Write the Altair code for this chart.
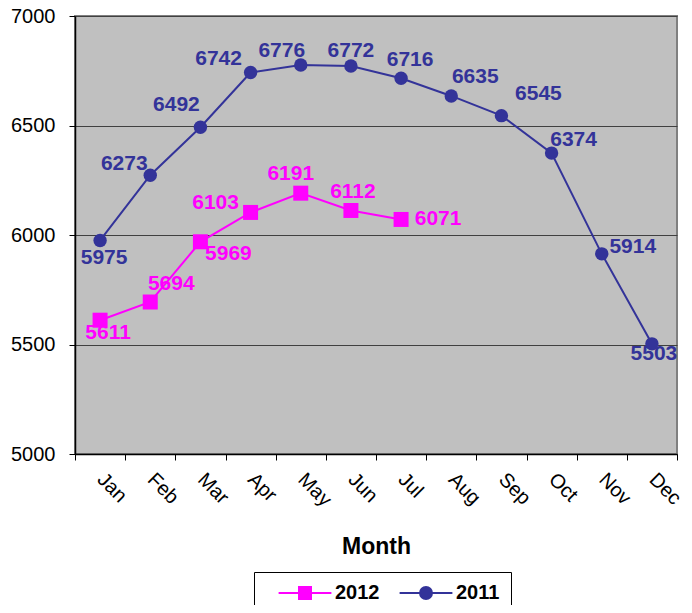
import altair as alt
import pandas as pd

months = ["Jan", "Feb", "Mar", "Apr", "May", "Jun", "Jul", "Aug", "Sep", "Oct", "Nov", "Dec"]
sales_2011 = [5975, 6273, 6492, 6742, 6776, 6772, 6716, 6635, 6545, 6374, 5914, 5503]
sales_2012 = [5611, 5694, 5969, 6103, 6191, 6112, 6071]
years = ["2012", "2011"]
y_ticks = [5000, 5500, 6000, 6500, 7000]

# label placement offsets (pixels) for each data label
label_dx_2011 = [4, -26, -24, -32, -19, 0, 9, 24, 37, 22, 31, 2]
label_dy_2011 = [18, -11, -22, -14, -14, -15, -18, -19, -22, -13, -7, 10]
label_dx_2012 = [8, 21, 28, -35, -10, 2, 37]
label_dy_2012 = [13, -18, 12, -9, -19, -18, 0]

COL_2012 = "#FF00FF"
COL_2011 = "#333399"
FONT = "Liberation Sans"

rows = []
for m, v in zip(months, sales_2011):
    rows.append({"month": m, "year": "2011", "value": v})
for m, v in zip(months, sales_2012):
    rows.append({"month": m, "year": "2012", "value": v})
df = pd.DataFrame(rows)

x_enc = alt.X(
    "month:N",
    sort=months,
    scale=alt.Scale(domain=months, paddingInner=0, paddingOuter=0),
    axis=alt.Axis(
        title="Month",
        titleFontSize=23,
        titleFontWeight="bold",
        titleFont=FONT,
        titleColor="#000000",
        titlePadding=26,
        labelAngle=45,
        labelAlign="left",
        labelBaseline="middle",
        labelFontSize=20,
        labelFont=FONT,
        labelColor="#000000",
        labelPadding=16,
        tickBand="extent",
        tickSize=6,
        tickColor="#000000",
        domainColor="#000000",
        domainWidth=1.5,
        grid=False,
    ),
)
y_enc = alt.Y(
    "value:Q",
    scale=alt.Scale(domain=[5000, 7000], nice=False, zero=False),
    axis=alt.Axis(
        title=None,
        values=y_ticks,
        format="d",
        labelFontSize=20,
        labelFont=FONT,
        labelColor="#000000",
        labelPadding=14,
        tickSize=6,
        tickColor="#000000",
        domainColor="#000000",
        domainWidth=1.5,
        grid=True,
        gridColor="#404040",
        gridWidth=1,
    ),
)

base = alt.Chart(df)

def series(year, color, shape, size, mlist, dxs, dys):
    sub = base.transform_filter(alt.datum.year == year)
    out = [
        sub.mark_line(color=color, strokeWidth=2).encode(x=x_enc, y=y_enc),
        sub.mark_point(shape=shape, filled=True, color=color, size=size, opacity=1).encode(x=x_enc, y=y_enc),
    ]
    for m, dx, dy in zip(mlist, dxs, dys):
        out.append(
            sub.transform_filter(alt.datum.month == m)
            .mark_text(color=color, font=FONT, fontSize=21, fontWeight="bold",
                       align="center", baseline="middle", dx=dx, dy=dy)
            .encode(x=x_enc, y=y_enc, text="value:Q")
        )
    return out

path_sq = "M-4.4,0H4.4M-1,-1H1V1H-1Z"
path_ci = "M-4.4,0H4.4M1,0A1,1 0 1,1 -1,0A1,1 0 1,1 1,0Z"

leg = alt.Legend(
    title=None,
    orient="none",
    legendX=179,
    legendY=556,
    direction="horizontal",
    labelFont=FONT,
    labelFontSize=20,
    labelFontWeight="bold",
    labelColor="#000000",
    symbolSize=144,
    symbolOpacity=1,
    symbolStrokeWidth=2,
    symbolOffset=30,
    labelOffset=20,
    columnPadding=6,
    padding=11,
    strokeColor="#000000",
    fillColor="#FFFFFF",
)

legend_layer = base.mark_point(filled=True, opacity=0, strokeWidth=2).encode(
    x=x_enc,
    y=y_enc,
    color=alt.Color("year:N", scale=alt.Scale(domain=years, range=[COL_2012, COL_2011]), legend=leg),
    stroke=alt.Stroke("year:N", scale=alt.Scale(domain=years, range=[COL_2012, COL_2011]), legend=leg),
    shape=alt.Shape("year:N", scale=alt.Scale(domain=years, range=[path_sq, path_ci]), legend=leg),
)

layers = (
    series("2012", COL_2012, "square", 225, months[:len(sales_2012)], label_dx_2012, label_dy_2012)
    + series("2011", COL_2011, "circle", 180, months, label_dx_2011, label_dy_2011)
    + [legend_layer]
)

chart = alt.layer(*layers).properties(
    width=602,
    height=438,
    autosize=alt.AutoSizeParams(type="none"),
    padding={"left": 67, "top": 8, "right": 7, "bottom": 151},
    background="#FFFFFF",
).configure_view(
    fill="#C0C0C0",
    stroke="#808080",
    strokeWidth=2,
)

chart.save("out.html", embed_options={"renderer": "svg", "actions": False})
